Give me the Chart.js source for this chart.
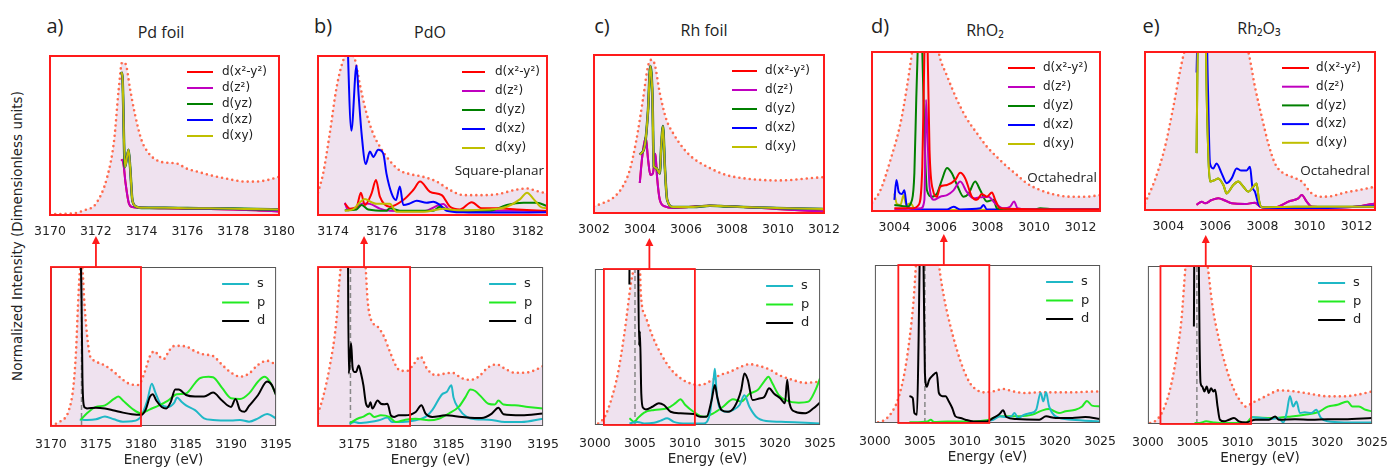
<!DOCTYPE html>
<html>
<head>
<meta charset="utf-8">
<script src="https://cdn.jsdelivr.net/npm/chart.js"></script>
<style>
  body { margin: 0; width: 1392px; height: 469px; background: #fff; position: relative; overflow: hidden; }
  canvas { position: absolute; }
  .lbl { position: absolute; transform: translate(-50%, -50%); white-space: nowrap; color: #222; font-family: "Open Sans", sans-serif; }
  .letter { font-size: 20px; }
  .title { font-size: 16px; }
  .ylab { font-family: "DejaVu Sans", sans-serif; font-size: 13.5px; transform: translate(-50%, -50%) rotate(-90deg); }
</style>
</head>
<body>
<div class="lbl ylab" style="left:17px;top:236px">Normalized Intensity (Dimensionless units)</div>
<div class="lbl letter" style="left:55px;top:25px">a)</div>
<div class="lbl title" style="left:161px;top:32px">Pd foil</div>
<div class="lbl letter" style="left:323px;top:25px">b)</div>
<div class="lbl title" style="left:430px;top:32px">PdO</div>
<div class="lbl letter" style="left:602px;top:25px">c)</div>
<div class="lbl title" style="left:704px;top:30px">Rh foil</div>
<div class="lbl letter" style="left:880px;top:25px">d)</div>
<div class="lbl title" style="left:985px;top:30px">RhO₂</div>
<div class="lbl letter" style="left:1151px;top:25px">e)</div>
<div class="lbl title" style="left:1259px;top:28px">Rh₂O₃</div>
<script>
// ---------- Pd foil ----------
const pdTicksTop = [3170, 3172, 3174, 3176, 3178, 3180];
const pdEnv = [[3170,0.005],[3171,0.01],[3171.5,0.03],[3172,0.07],[3172.5,0.24],[3172.8,0.47],[3173,0.79],[3173.15,0.96],[3173.3,0.95],[3173.5,0.79],[3173.7,0.64],[3174,0.47],[3174.3,0.39],[3174.6,0.35],[3175,0.33],[3175.5,0.325],[3176,0.29],[3176.5,0.27],[3177,0.25],[3177.5,0.235],[3178,0.22],[3178.5,0.21],[3179,0.21],[3179.5,0.22],[3180,0.24]];
const pdEg = [[3173.12,0.35],[3173.2,0.33],[3173.3,0.2],[3173.45,0.07],[3173.6,0.05],[3174,0.045],[3175,0.042],[3176,0.04],[3177,0.038],[3178,0.035],[3179,0.03],[3180,0.022]];
const pdT2g = [[3173.12,0.9],[3173.17,0.85],[3173.27,0.3],[3173.43,0.41],[3173.5,0.3],[3173.6,0.09],[3173.8,0.05],[3174,0.045],[3175,0.045],[3176,0.043],[3177,0.042],[3178,0.04],[3179,0.037],[3180,0.035]];
const pdTicksBot = [3170, 3175, 3180, 3185, 3190, 3195];
const pdBotEnv = [[3170,0.006],[3171,0.027],[3172,0.1],[3172.5,0.25],[3172.8,0.48],[3173,0.75],[3173.2,0.96],[3173.4,1.02],[3173.55,0.95],[3173.7,0.79],[3174,0.58],[3174.3,0.45],[3174.6,0.42],[3175,0.405],[3176,0.38],[3177,0.34],[3178,0.29],[3179,0.26],[3179.7,0.258],[3180.3,0.32],[3181,0.44],[3181.5,0.47],[3182,0.44],[3182.5,0.42],[3183,0.46],[3183.5,0.5],[3184,0.504],[3185,0.5],[3186,0.47],[3187,0.45],[3188,0.44],[3189,0.385],[3190,0.336],[3191,0.31],[3192,0.33],[3193,0.385],[3194,0.41],[3195,0.385]];
const pdS = [[3173.2,0.04],[3174,0.038],[3175,0.042],[3176,0.06],[3177,0.042],[3178,0.027],[3179,0.03],[3180,0.06],[3180.7,0.16],[3181.2,0.265],[3181.6,0.21],[3182.2,0.137],[3183,0.12],[3183.7,0.147],[3184,0.18],[3184.5,0.153],[3185,0.13],[3186,0.1],[3187,0.048],[3188,0.038],[3190,0.034],[3191,0.038],[3192,0.027],[3193,0.048],[3194,0.076],[3195,0.048]];
const pdP = [[3173.3,0.038],[3174,0.08],[3175,0.12],[3176,0.13],[3177,0.17],[3177.5,0.185],[3178,0.16],[3179,0.11],[3180,0.08],[3181,0.105],[3182,0.13],[3183,0.16],[3184,0.2],[3185,0.205],[3186,0.27],[3186.5,0.3],[3187.5,0.31],[3188,0.307],[3189,0.24],[3190,0.175],[3191,0.17],[3192,0.205],[3193,0.28],[3193.7,0.31],[3194.3,0.28],[3195,0.195]];
const pdD = [[3173.2,1.3],[3173.4,0.8],[3173.5,0.3],[3173.65,0.13],[3173.8,0.115],[3174,0.11],[3175,0.115],[3176,0.11],[3177,0.097],[3178,0.084],[3179,0.074],[3180,0.07],[3180.5,0.1],[3181,0.185],[3181.3,0.2],[3181.7,0.16],[3182.3,0.12],[3182.8,0.11],[3183.3,0.15],[3183.8,0.23],[3184.2,0.23],[3185,0.195],[3186,0.185],[3187,0.185],[3188,0.21],[3189,0.16],[3190,0.12],[3190.5,0.17],[3191,0.1],[3191.5,0.09],[3192,0.126],[3193,0.195],[3194,0.28],[3194.5,0.26],[3195,0.195]];
const pdEdge = 3173.4;
const pdZoom = [3170, 3180];

// ---------- PdO ----------
const pdoTicksTop = [3174, 3176, 3178, 3180, 3182];
const pdoEnv = [[3173.38,0.14],[3173.59,0.26],[3173.86,0.51],[3174.14,0.8],[3174.41,0.97],[3174.6,1.02],[3174.89,0.98],[3175.1,0.82],[3175.37,0.64],[3175.65,0.51],[3175.92,0.43],[3176.33,0.34],[3176.74,0.28],[3177.16,0.257],[3177.7,0.24],[3178.25,0.21],[3178.8,0.157],[3179.35,0.125],[3180.17,0.125],[3180.72,0.13],[3181.54,0.16],[3181.96,0.167],[3182.37,0.15],[3182.78,0.136]];
const pdoX2y2 = [[3174.48,0.073],[3174.69,0.04],[3174.96,0.05],[3175.14,0.14],[3175.3,0.063],[3175.58,0.136],[3175.76,0.22],[3175.92,0.115],[3176.33,0.052],[3176.88,0.094],[3177.29,0.157],[3177.57,0.21],[3177.98,0.146],[3178.46,0.125],[3178.8,0.052],[3179.21,0.035],[3179.69,0.08],[3180.1,0.042],[3180.72,0.042],[3181.54,0.035],[3182.78,0.025]];
const pdoZ2 = [[3174.48,0.077],[3174.62,0.03],[3174.96,0.05],[3175.23,0.073],[3175.51,0.07],[3175.92,0.04],[3176.33,0.027],[3177.7,0.023],[3178.53,0.069],[3178.8,0.03],[3179.7,0.025],[3181.8,0.027],[3182.78,0.021]];
const pdoYz = [[3174.48,0.03],[3174.96,0.035],[3175.17,0.063],[3175.44,0.035],[3176.19,0.027],[3176.33,0.042],[3176.74,0.027],[3178.11,0.027],[3178.39,0.052],[3178.8,0.027],[3180.44,0.027],[3181.13,0.063],[3181.82,0.077],[3182.37,0.077],[3182.78,0.056]];
const pdoXz = [[3174.55,1.3],[3174.75,0.53],[3174.96,0.94],[3175.05,0.75],[3175.17,0.51],[3175.34,0.32],[3175.51,0.4],[3175.65,0.365],[3175.85,0.41],[3176.06,0.386],[3176.19,0.26],[3176.4,0.136],[3176.58,0.094],[3176.74,0.18],[3176.88,0.063],[3177.16,0.073],[3177.43,0.09],[3177.84,0.077],[3178.11,0.083],[3178.39,0.063],[3178.66,0.027],[3179.35,0.017],[3180.5,0.015],[3182.78,0.017]];
const pdoXy = [[3174.48,0.027],[3174.82,0.035],[3175.1,0.08],[3175.3,0.1],[3175.58,0.08],[3175.79,0.07],[3176.33,0.07],[3176.6,0.02],[3177.7,0.02],[3178.53,0.04],[3179.08,0.03],[3180.44,0.035],[3181.13,0.052],[3181.68,0.1],[3181.96,0.14],[3182.23,0.1],[3182.51,0.052],[3182.78,0.042]];
const pdoTicksBot = [3175, 3180, 3185, 3190, 3195];
const pdoBotEnv = [[3171.14,0.078],[3171.67,0.18],[3172.37,0.37],[3173.07,0.65],[3173.42,0.92],[3173.6,1.02],[3174.8,1.5],[3176.16,1.02],[3176.4,0.79],[3176.75,0.67],[3177.46,0.625],[3178.16,0.56],[3178.68,0.48],[3179.39,0.38],[3179.9,0.347],[3180.6,0.347],[3181.3,0.39],[3182,0.436],[3182.7,0.36],[3183.6,0.32],[3184.65,0.33],[3185.35,0.335],[3186.4,0.3],[3187.3,0.29],[3188.16,0.31],[3189.2,0.37],[3190.1,0.387],[3190.96,0.36],[3192,0.335],[3193.07,0.335],[3194.1,0.35],[3195,0.377]];
const pdoS = [[3174.47,0.015],[3175,0.025],[3175.5,0.019],[3176.6,0.025],[3177.6,0.036],[3178.5,0.053],[3179,0.025],[3180.1,0.025],[3181.5,0.036],[3182.54,0.057],[3183.25,0.1],[3184.3,0.2],[3184.8,0.215],[3185.28,0.257],[3185.5,0.18],[3186.05,0.11],[3186.9,0.057],[3187.8,0.042],[3189.2,0.04],[3190.96,0.025],[3192.7,0.025],[3195,0.046]];
const pdoP = [[3174.54,0.019],[3175,0.036],[3175.5,0.05],[3175.9,0.057],[3176.6,0.078],[3177.1,0.057],[3177.8,0.067],[3178.7,0.057],[3179.4,0.025],[3180.4,0.04],[3181.5,0.046],[3182.9,0.036],[3183.95,0.046],[3185,0.078],[3186.05,0.12],[3186.75,0.18],[3187.3,0.23],[3187.8,0.22],[3188.5,0.18],[3189.2,0.14],[3189.9,0.135],[3190.26,0.16],[3190.8,0.135],[3192,0.13],[3193.4,0.12],[3195,0.11]];
const pdoD = [[3174.3,1.3],[3174.4,0.33],[3174.55,0.45],[3174.65,0.52],[3174.8,0.37],[3175,0.34],[3175.17,0.34],[3175.46,0.38],[3175.7,0.33],[3175.95,0.257],[3176.23,0.14],[3176.5,0.12],[3176.7,0.15],[3176.9,0.11],[3177.46,0.16],[3177.8,0.14],[3178.16,0.137],[3178.5,0.14],[3178.86,0.067],[3179.2,0.057],[3179.7,0.067],[3180.4,0.067],[3181.5,0.088],[3182.1,0.13],[3182.54,0.078],[3183.25,0.057],[3184.65,0.067],[3186.4,0.057],[3188.5,0.05],[3189.56,0.078],[3190.26,0.114],[3190.8,0.074],[3192.7,0.067],[3195,0.078]];
const pdoEdge = 3174.58;
const pdoZoom = [3171.14, 3180.9];

// ---------- Rh foil ----------
const rhTicksTop = [3002, 3004, 3006, 3008, 3010, 3012];
const rhEnv = [[3002,0.042],[3002.39,0.063],[3002.83,0.095],[3003.26,0.17],[3003.55,0.27],[3003.84,0.46],[3004.13,0.72],[3004.35,0.93],[3004.5,0.97],[3004.64,0.94],[3004.86,0.76],[3005.15,0.59],[3005.44,0.505],[3005.88,0.41],[3006.31,0.347],[3007.04,0.284],[3007.76,0.24],[3008.49,0.22],[3009.21,0.21],[3009.94,0.206],[3010.66,0.21],[3011.39,0.22],[3012,0.227]];
const rhT2g = [[3003.99,0.37],[3004.2,0.42],[3004.35,0.65],[3004.45,0.93],[3004.54,0.74],[3004.6,0.295],[3004.71,0.284],[3004.86,0.25],[3004.93,0.44],[3005,0.55],[3005.08,0.295],[3005.18,0.084],[3005.44,0.038],[3006.31,0.038],[3007.04,0.046],[3007.76,0.042],[3008.49,0.038],[3009.94,0.032],[3012,0.025]];
const rhEg = [[3003.99,0.19],[3004.1,0.36],[3004.25,0.48],[3004.35,0.34],[3004.45,0.24],[3004.56,0.25],[3004.67,0.375],[3004.74,0.23],[3004.86,0.084],[3005.08,0.042],[3005.44,0.032],[3007.04,0.046],[3008.49,0.038],[3009.94,0.025],[3012,0.01]];
const rhTicksBot = [3000, 3005, 3010, 3015, 3020, 3025];
const rhBotEnv = [[3000.36,0.01],[3001.1,0.053],[3001.8,0.16],[3002.55,0.33],[3003.28,0.59],[3004,0.91],[3004.3,1.02],[3004.7,1.4],[3005,1.02],[3005.1,0.84],[3005.66,0.69],[3006.39,0.57],[3007.3,0.46],[3008.4,0.36],[3009.5,0.3],[3010.58,0.267],[3011.68,0.256],[3012.77,0.28],[3013.87,0.32],[3014.96,0.34],[3016.06,0.37],[3017.15,0.39],[3018.25,0.378],[3019.34,0.357],[3020.44,0.32],[3021.9,0.29],[3023.36,0.27],[3025,0.278]];
const rhS = [[3003.83,0.01],[3004.74,0.02],[3005.47,0.01],[3006.57,0.015],[3007.3,0.028],[3008.03,0.043],[3008.76,0.02],[3010.22,0.01],[3012.04,0.01],[3012.77,0.075],[3013.14,0.27],[3013.32,0.36],[3013.5,0.22],[3013.87,0.107],[3014.6,0.085],[3015.33,0.096],[3016.06,0.128],[3016.6,0.19],[3017.15,0.117],[3017.9,0.053],[3019,0.026],[3021.2,0.02],[3023.4,0.015],[3025,0.01]];
const rhP = [[3003.83,0.043],[3004.38,0.02],[3004.74,0.043],[3005.47,0.08],[3006.57,0.096],[3008.03,0.107],[3008.94,0.14],[3009.5,0.165],[3010.04,0.128],[3010.95,0.085],[3012.04,0.053],[3013.14,0.075],[3014.23,0.117],[3015.33,0.165],[3016.24,0.15],[3017.15,0.2],[3018.07,0.224],[3018.8,0.28],[3019.27,0.31],[3019.7,0.267],[3020.44,0.19],[3021.17,0.16],[3022.63,0.143],[3023.7,0.15],[3024.45,0.22],[3025,0.3]];
const rhD = [[3003.83,0.9],[3003.87,1.3],[3004.3,1.3],[3004.75,1.3],[3004.9,0.51],[3005,0.6],[3005.15,0.2],[3005.35,0.11],[3005.66,0.1],[3006.39,0.117],[3007.1,0.14],[3007.66,0.128],[3008.4,0.085],[3009.5,0.075],[3010.95,0.07],[3011.68,0.053],[3012.4,0.053],[3012.96,0.16],[3013.32,0.256],[3013.58,0.18],[3014.05,0.096],[3014.78,0.085],[3015.5,0.117],[3016.24,0.224],[3016.6,0.33],[3016.97,0.29],[3017.5,0.16],[3018.25,0.17],[3018.8,0.18],[3019.34,0.235],[3019.9,0.2],[3020.6,0.17],[3021.1,0.14],[3021.35,0.29],[3021.6,0.14],[3022.26,0.085],[3023.36,0.075],[3024.27,0.107],[3025,0.145]];
const rhEdge = 3004.45;
const rhZoom = [3001, 3011.1];

// ---------- RhO2 ----------
const rho2TicksTop = [3004, 3006, 3008, 3010, 3012];
const rho2Env = [[3003.04,0.05],[3003.4,0.13],[3003.83,0.32],[3004.26,0.55],[3004.54,0.78],[3004.76,1],[3005.3,1.6],[3005.9,1],[3006.26,0.85],[3006.69,0.7],[3007.11,0.58],[3007.54,0.49],[3007.97,0.405],[3008.4,0.34],[3008.83,0.28],[3009.26,0.227],[3009.69,0.174],[3010.26,0.132],[3010.83,0.105],[3011.54,0.09],[3012.26,0.09],[3012.83,0.1]];
const rho2X2y2 = [[3004,0.017],[3004.76,0.017],[3005.04,0.038],[3005.2,0.28],[3005.29,1],[3005.34,1.3],[3005.43,1],[3005.51,0.385],[3005.66,0.13],[3005.83,0.09],[3005.97,0.153],[3006.26,0.164],[3006.61,0.195],[3006.83,0.24],[3007.04,0.206],[3007.33,0.09],[3007.54,0.07],[3007.76,0.107],[3007.97,0.09],[3008.19,0.116],[3008.33,0.07],[3008.54,0.017],[3010.26,0.01],[3012.83,0.01]];
const rho2Z2 = [[3004,0.01],[3005.14,0.017],[3005.29,0.07],[3005.36,0.7],[3005.43,0.45],[3005.51,0.153],[3005.69,0.07],[3005.97,0.09],[3006.26,0.1],[3006.54,0.13],[3006.83,0.185],[3007.11,0.12],[3007.4,0.08],[3007.69,0.086],[3008.04,0.09],[3008.33,0.048],[3008.69,0.017],[3008.97,0.027],[3009.14,0.06],[3009.29,0.017],[3009.69,0.01],[3012.83,0.01]];
const rho2Yz = [[3004,0.038],[3004.54,0.028],[3004.76,0.07],[3004.86,0.24],[3004.94,0.7],[3005,1],[3005.09,1.3],[3005.2,1],[3005.29,0.49],[3005.4,0.13],[3005.61,0.09],[3005.83,0.11],[3006.04,0.195],[3006.26,0.27],[3006.47,0.237],[3006.69,0.164],[3006.97,0.09],[3007.19,0.11],[3007.47,0.185],[3007.69,0.13],[3007.97,0.06],[3008.26,0.07],[3008.4,0.017],[3008.83,0.01],[3010,0.01],[3010.26,0.017],[3010.9,0.01],[3012.83,0.01]];
const rho2Xz = [[3004,0.07],[3004.09,0.195],[3004.19,0.12],[3004.33,0.107],[3004.43,0.13],[3004.54,0.027],[3004.83,0.01],[3006.26,0.01],[3006.54,0.027],[3006.83,0.01],[3007.69,0.017],[3007.83,0.038],[3007.97,0.01],[3012.83,0.01]];
const rho2Xy = [[3004,0.11],[3004.11,0.044],[3004.26,0.038],[3004.4,0.1],[3004.51,0.038],[3004.69,0.048],[3004.9,0.01],[3005.97,0.006],[3012.83,0.01]];
const rho2TicksBot = [3000, 3005, 3010, 3015, 3020, 3025];
const rho2BotEnv = [[3000.36,0.004],[3001.1,0.02],[3001.82,0.063],[3002.55,0.147],[3003.28,0.316],[3003.83,0.526],[3004.3,0.78],[3004.56,1],[3005.8,1.8],[3007.12,1],[3007.66,0.8],[3008.4,0.61],[3009.12,0.46],[3009.85,0.337],[3010.58,0.25],[3011.3,0.21],[3012.04,0.194],[3013.14,0.2],[3014.23,0.215],[3015.33,0.2],[3016.8,0.19],[3018.25,0.194],[3020.07,0.194],[3021.9,0.194],[3023.72,0.198],[3025,0.2]];
const rho2S = [[3012.4,0.01],[3013.14,0.02],[3013.87,0.042],[3014.6,0.038],[3015.15,0.042],[3015.5,0.063],[3015.88,0.032],[3016.6,0.053],[3017.3,0.063],[3017.9,0.084],[3018.4,0.19],[3018.7,0.137],[3019,0.194],[3019.34,0.105],[3020.07,0.042],[3021.9,0.021],[3025,0.01]];
const rho2P = [[3003.83,0.004],[3005.84,0.01],[3006.2,0.02],[3006.57,0.006],[3008.03,0.01],[3010.95,0.01],[3012.4,0.017],[3013.87,0.042],[3014.6,0.042],[3016.06,0.042],[3017.5,0.053],[3018.6,0.08],[3019.34,0.088],[3020.44,0.063],[3021.17,0.074],[3022.26,0.084],[3023,0.105],[3023.54,0.14],[3024.1,0.11],[3025,0.105]];
const rho2D = [[3003.83,0.17],[3004.2,0.158],[3004.38,0.063],[3004.67,0.053],[3004.85,0.526],[3004.96,1],[3005.1,1.3],[3005.4,1],[3005.55,0.316],[3005.77,0.23],[3006,0.27],[3006.4,0.3],[3006.86,0.32],[3007.1,0.19],[3007.5,0.17],[3007.85,0.17],[3008.2,0.137],[3008.58,0.095],[3008.94,0.042],[3009.5,0.032],[3010.04,0.021],[3010.95,0.01],[3012.4,0.01],[3013.14,0.032],[3013.87,0.059],[3014.23,0.08],[3014.6,0.038],[3015.7,0.025],[3018.25,0.021],[3019,0.042],[3020.07,0.032],[3021.9,0.032],[3023.36,0.038],[3025,0.025]];
const rho2Edge = 3005.55;
const rho2Zoom = [3002.6, 3012.7];

// ---------- Rh2O3 ----------
const rh2o3TicksTop = [3004, 3006, 3008, 3010, 3012];
const rh2o3Env = [[3003.01,0.042],[3003.43,0.19],[3003.86,0.4],[3004.21,0.65],[3004.5,0.88],[3004.68,1],[3006,1.5],[3007.4,1],[3007.68,0.78],[3007.97,0.59],[3008.25,0.42],[3008.53,0.295],[3008.82,0.24],[3009.24,0.21],[3009.67,0.18],[3010.09,0.105],[3010.52,0.084],[3010.94,0.088],[3011.5,0.11],[3012.07,0.126],[3012.78,0.147]];
const rh2o3Eg = [[3005.2,0.032],[3005.42,0.053],[3005.56,0.042],[3005.84,0.063],[3006.12,0.074],[3006.41,0.06],[3006.69,0.042],[3007.26,0.038],[3007.68,0.046],[3007.9,0.021],[3008.38,0.01],[3008.67,0.021],[3009.1,0.053],[3009.52,0.074],[3009.67,0.095],[3009.88,0.053],[3010.09,0.021],[3011.5,0.017],[3012.2,0.025],[3012.78,0.042]];
const rh2o3T2g = [[3005.2,0.36],[3005.28,1.3],[3005.55,1.3],[3005.65,0.6],[3005.77,0.18],[3005.98,0.19],[3006.12,0.2],[3006.34,0.158],[3006.48,0.105],[3006.76,0.158],[3006.97,0.18],[3007.19,0.147],[3007.4,0.116],[3007.61,0.147],[3007.75,0.168],[3007.85,0.063],[3007.97,0.017],[3009.38,0.02],[3012.78,0.02]];
const rh2o3Xz = [[3005.2,0.87],[3005.28,1.3],[3005.6,1.3],[3005.68,0.8],[3005.77,0.295],[3005.91,0.263],[3006.05,0.295],[3006.27,0.23],[3006.48,0.17],[3006.69,0.2],[3006.9,0.263],[3007.1,0.25],[3007.33,0.25],[3007.47,0.274],[3007.57,0.147],[3007.68,0.116],[3007.82,0.042],[3007.97,0.017],[3008.67,0.01],[3010.09,0.01],[3011.5,0.017],[3012.78,0.025]];
const rh2o3TicksBot = [3000, 3005, 3010, 3015, 3020, 3025];
const rh2o3BotEnv = [[3000.26,0.006],[3001,0.027],[3001.72,0.09],[3002.46,0.217],[3003.19,0.43],[3003.74,0.66],[3004.2,1],[3005.4,1.6],[3006.67,1],[3007.22,0.74],[3007.95,0.53],[3008.69,0.364],[3009.6,0.217],[3010.34,0.143],[3010.89,0.11],[3011.62,0.133],[3012.72,0.164],[3013.82,0.196],[3014.55,0.213],[3016.39,0.206],[3018.22,0.19],[3020.05,0.175],[3021.88,0.175],[3023.35,0.185],[3025,0.206]];
const rh2o3S = [[3011.62,0.042],[3012.72,0.038],[3013.82,0.032],[3014.55,0.038],[3015.1,0.01],[3015.47,0.07],[3015.84,0.175],[3016.2,0.11],[3016.57,0.143],[3016.94,0.07],[3017.49,0.074],[3018.22,0.07],[3018.77,0.09],[3019.3,0.038],[3020.05,0.017],[3021.88,0.01],[3025,0.01]];
const rh2o3P = [[3005.2,0.006],[3005.76,0.006],[3006.5,0.017],[3007.3,0.01],[3008.03,0.006],[3011,0.01],[3011.62,0.042],[3013.82,0.038],[3016,0.048],[3017.49,0.059],[3018.95,0.074],[3020.05,0.11],[3021.15,0.122],[3022.25,0.143],[3022.8,0.11],[3023.53,0.11],[3024.27,0.09],[3025,0.08]];
const rh2o3D = [[3005.13,0.617],[3005.2,1.3],[3005.6,1.3],[3005.68,1],[3005.76,0.53],[3005.87,0.26],[3006.05,0.238],[3006.3,0.206],[3006.56,0.238],[3006.78,0.196],[3007.04,0.227],[3007.3,0.206],[3007.5,0.217],[3007.77,0.11],[3008.03,0.027],[3008.5,0.017],[3009.05,0.027],[3009.6,0.038],[3010.15,0.017],[3010.9,0.01],[3012,0.027],[3013.5,0.027],[3014.19,0.048],[3014.6,0.027],[3016.39,0.03],[3018.22,0.027],[3020.05,0.03],[3021.88,0.03],[3025,0.038]];
const rh2o3Edge = 3005.46;
const rh2o3Zoom = [3001.4, 3011.5];

// colours and labels
const RED = '#ff0000', MAG = '#bf00bf', GRN = '#008000', BLU = '#0000ff', YEL = '#bfbf00';
const CYAN = '#1fb8c6', LIME = '#22ea22', BLK = '#000000';
const orbLabels = ['d(x²-y²)', 'd(z²)', 'd(yz)', 'd(xz)', 'd(xy)'];
const orbColors = [RED, MAG, GRN, BLU, YEL];
const spdLabels = ['s', 'p', 'd'];
const spdColors = [CYAN, LIME, BLK];

Chart.defaults.font.family = 'DejaVu Sans';
const pts = arr => arr.map(([x, y]) => ({x, y}));

function envSet(arr) {
  return {data: pts(arr), borderColor: '#ff6a4d', borderWidth: 2.6, borderDash: [0, 5.2], borderCapStyle: 'round',
          fill: 'origin', backgroundColor: '#efe2ef', pointRadius: 0, order: 20, cubicInterpolationMode: 'monotone'};
}
function lineSet(arr, color, order, width) {
  return {data: pts(arr), borderColor: color, borderWidth: width || 2, pointRadius: 0, fill: false, order,
          cubicInterpolationMode: 'monotone'};
}

function decor(cfg) {
  return {
    id: 'decor',
    afterDatasetsDraw(chart) {
      const {ctx, chartArea: a} = chart;
      const x = chart.scales.x;
      ctx.save();
      if (cfg.bottom) {
        ctx.strokeStyle = '#555'; ctx.lineWidth = 1;
        ctx.strokeRect(a.left + 0.5, a.top + 0.5, a.right - a.left - 1, a.bottom - a.top - 1);
        const x0 = x.getPixelForValue(cfg.zoom[0]), x1 = x.getPixelForValue(cfg.zoom[1]);
        ctx.strokeStyle = '#ff1a1a'; ctx.lineWidth = 1.8;
        ctx.strokeRect(x0, a.top, x1 - x0, a.bottom - a.top);
        const cx = (x0 + x1) / 2;
        ctx.beginPath(); ctx.moveTo(cx, a.top); ctx.lineTo(cx, a.top - 24); ctx.stroke();
        ctx.fillStyle = '#ff1a1a';
        ctx.beginPath(); ctx.moveTo(cx, a.top - 31); ctx.lineTo(cx - 4, a.top - 23); ctx.lineTo(cx + 4, a.top - 23); ctx.closePath(); ctx.fill();
      } else {
        ctx.strokeStyle = '#ff1a1a'; ctx.lineWidth = 2;
        ctx.strokeRect(a.left, a.top, a.right - a.left, a.bottom - a.top);
      }
      const L = cfg.leg;
      ctx.font = L.size + 'px "DejaVu Sans"';
      ctx.textBaseline = 'middle';
      L.labels.forEach((lab, i) => {
        const y = a.top + L.y0 + i * L.dy;
        ctx.strokeStyle = L.colors[i]; ctx.lineWidth = 2;
        ctx.beginPath(); ctx.moveTo(a.right + L.l0, y); ctx.lineTo(a.right + L.l1, y); ctx.stroke();
        ctx.fillStyle = '#222';
        ctx.fillText(lab, a.right + L.tx, y);
      });
      if (cfg.note) {
        ctx.font = '13.5px "Open Sans"';
        ctx.textAlign = 'right';
        ctx.fillText(cfg.note.text, a.right + cfg.note.dx, a.top + cfg.note.dy);
      }
      ctx.restore();
    }
  };
}

function makeChart(cfg) {
  const padL = 25, padR = 25, padT = cfg.bottom ? 36 : 6, axisH = cfg.bottom ? 45 : 28;
  const [l, t, r, b] = cfg.frame;
  const cv = document.createElement('canvas');
  cv.width = r - l + padL + padR;
  cv.height = b - t + padT + axisH;
  cv.style.left = (l - padL) + 'px';
  cv.style.top = (t - padT) + 'px';
  document.body.appendChild(cv);
  const sets = [envSet(cfg.env)].concat(cfg.lines.map(s => lineSet(s[0], s[1], s[2], s[3])));
  if (cfg.bottom) {
    sets.push({data: pts([[cfg.edge, 0], [cfg.edge, 1]]), borderColor: '#888', borderWidth: 1.5,
               borderDash: [5, 3], pointRadius: 0, fill: false, order: 15});
  }
  new Chart(cv, {
    type: 'line',
    data: {datasets: sets},
    options: {
      responsive: false, animation: false, devicePixelRatio: 1,
      layout: {padding: {left: padL, right: padR, top: padT, bottom: 0}},
      plugins: {legend: {display: false}, tooltip: {enabled: false}},
      scales: {
        x: {
          type: 'linear', min: cfg.xmin, max: cfg.xmax,
          grid: {display: false, drawTicks: false}, border: {display: false},
          afterBuildTicks: s => { s.ticks = cfg.ticks.map(v => ({value: v})); },
          afterFit: s => { s.height = axisH; },
          ticks: {padding: cfg.bottom ? 11 : 9, color: '#222', font: {size: 12.5}, maxRotation: 0, autoSkip: false,
                  callback: v => String(v)},
          title: {display: !!cfg.bottom, text: 'Energy (eV)', color: '#222', font: {size: 13.5},
                  padding: {top: 0, bottom: 2}}
        },
        y: {min: 0, max: 1, display: false}
      }
    },
    plugins: [decor(cfg)]
  });
}

const topLeg = (y0, dy, l0, l1, tx) => ({labels: orbLabels, colors: orbColors, size: 12, y0, dy, l0, l1, tx});
const botLeg = {labels: spdLabels, colors: spdColors, size: 13, y0: 17, dy: 18.5, l0: -54, l1: -27, tx: -19};

// top row: projected d orbitals
makeChart({frame: [50, 56, 279, 215], xmin: 3170, xmax: 3180, ticks: pdTicksTop, env: pdEnv,
  lines: [[pdEg, RED, 6], [pdEg, MAG, 5], [pdT2g, GRN, 4, 2.6], [pdT2g, BLU, 3], [pdT2g, YEL, 2]],
  leg: topLeg(16, 16, -92, -66, -57)});
makeChart({frame: [318, 56, 547, 215], xmin: 3173.38, xmax: 3182.78, ticks: pdoTicksTop, env: pdoEnv,
  lines: [[pdoX2y2, RED, 3], [pdoZ2, MAG, 5], [pdoYz, GRN, 4], [pdoXz, BLU, 2], [pdoXy, YEL, 1]],
  leg: topLeg(16, 19, -85, -62, -52), note: {text: 'Square-planar', dx: -3, dy: 115}});
makeChart({frame: [594, 55, 824, 213], xmin: 3002, xmax: 3012, ticks: rhTicksTop, env: rhEnv,
  lines: [[rhEg, RED, 6], [rhEg, MAG, 5], [rhT2g, GRN, 4, 2.6], [rhT2g, BLU, 3], [rhT2g, YEL, 2]],
  leg: topLeg(16, 19, -92, -67, -59)});
makeChart({frame: [872, 52, 1100, 211], xmin: 3003.04, xmax: 3012.83, ticks: rho2TicksTop, env: rho2Env,
  lines: [[rho2X2y2, RED, 2], [rho2Z2, MAG, 3], [rho2Yz, GRN, 4], [rho2Xz, BLU, 5], [rho2Xy, YEL, 6]],
  leg: topLeg(16, 19, -92, -65, -57), note: {text: 'Octahedral', dx: -3, dy: 126}});
makeChart({frame: [1145, 52, 1375, 210], xmin: 3003.01, xmax: 3012.78, ticks: rh2o3TicksTop, env: rh2o3Env,
  lines: [[rh2o3Eg, RED, 6], [rh2o3Eg, MAG, 5], [rh2o3T2g, GRN, 4], [rh2o3Xz, BLU, 3], [rh2o3T2g, YEL, 2]],
  leg: topLeg(16, 18.7, -93, -66, -59), note: {text: 'Octahedral', dx: -5, dy: 119}});

// bottom row: s, p, d projected DOS
makeChart({bottom: true, frame: [49, 267, 278, 426], xmin: 3170, xmax: 3195, ticks: pdTicksBot, env: pdBotEnv,
  lines: [[pdS, CYAN, 3], [pdP, LIME, 2], [pdD, BLK, 1]], leg: botLeg, zoom: pdZoom, edge: pdEdge});
makeChart({bottom: true, frame: [318, 267, 545, 426], xmin: 3171.14, xmax: 3195, ticks: pdoTicksBot, env: pdoBotEnv,
  lines: [[pdoS, CYAN, 3], [pdoP, LIME, 2], [pdoD, BLK, 1]], leg: botLeg, zoom: pdoZoom, edge: pdoEdge});
makeChart({bottom: true, frame: [593, 269, 822, 425], xmin: 3000, xmax: 3025, ticks: rhTicksBot, env: rhBotEnv,
  lines: [[rhS, CYAN, 2], [rhP, LIME, 3], [rhD, BLK, 1]], leg: botLeg, zoom: rhZoom, edge: rhEdge});
makeChart({bottom: true, frame: [873, 265, 1102, 423], xmin: 3000, xmax: 3025, ticks: rho2TicksBot, env: rho2BotEnv,
  lines: [[rho2S, CYAN, 2], [rho2P, LIME, 3], [rho2D, BLK, 1]], leg: botLeg, zoom: rho2Zoom, edge: rho2Edge});
makeChart({bottom: true, frame: [1146, 266, 1374, 424], xmin: 3000, xmax: 3025, ticks: rh2o3TicksBot, env: rh2o3BotEnv,
  lines: [[rh2o3S, CYAN, 2], [rh2o3P, LIME, 3], [rh2o3D, BLK, 1]], leg: botLeg, zoom: rh2o3Zoom, edge: rh2o3Edge});
</script>
</body>
</html>
